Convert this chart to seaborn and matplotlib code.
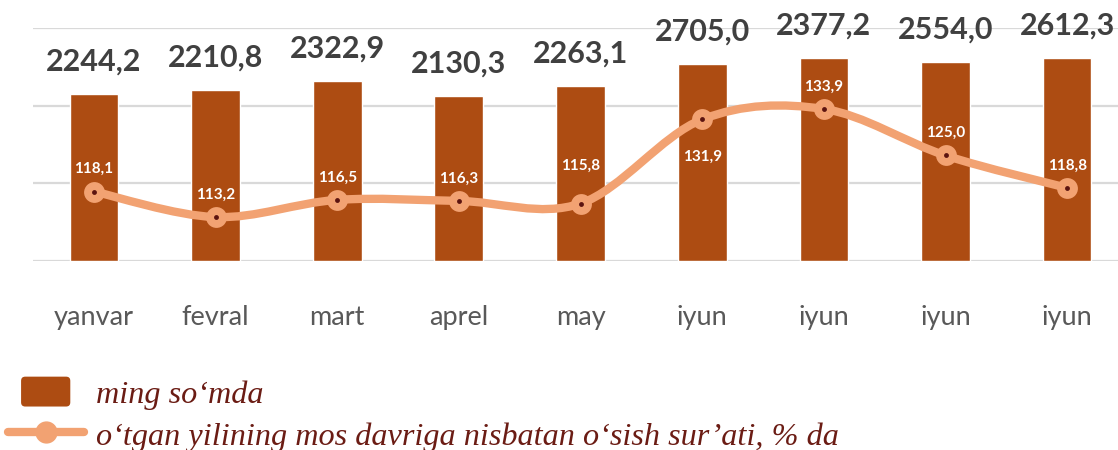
import numpy as np
import matplotlib.pyplot as plt
import seaborn as sns
from matplotlib.path import Path
from matplotlib.patches import PathPatch, Patch, FancyBboxPatch
from matplotlib.lines import Line2D
from matplotlib.legend_handler import HandlerPatch

sns.set_theme(style='white')
plt.rcParams['font.family'] = ['Lato', 'DejaVu Sans']

months = ['yanvar', 'fevral', 'mart', 'aprel', 'may', 'iyun', 'iyun', 'iyun', 'iyun']
# bar heights as drawn in the source picture (they do not follow the printed labels exactly)
bar_heights = [2222, 2275, 2395, 2195, 2328, 2621, 2701, 2648, 2701]
bar_labels = ['2244,2', '2210,8', '2322,9', '2130,3', '2263,1', '2705,0', '2377,2', '2554,0', '2612,3']
growth = [118.1, 113.2, 116.5, 116.3, 115.8, 131.9, 133.9, 125.0, 118.8]

BAR = '#AD4C12'
LINE = '#F2A272'
DOT = '#5C1410'
GRID = '#D9D9D9'
LABEL = '#404040'
TICK = '#595959'
LEGEND_TXT = '#6B1C14'

fig = plt.figure(figsize=(11.18, 4.5), dpi=100, facecolor='white')
ax = fig.add_axes([33 / 1118, 189 / 450, 1095 / 1118, 233 / 450])

# ── bars ──────────────────────────────────────────────
x = np.arange(len(months))
sns.barplot(x=x, y=bar_heights, color=BAR, width=0.4, saturation=1, ax=ax, zorder=2)
ax.set_xlim(-0.5, 8.5)
ax.set_ylim(0, 3100)
ax.set_yticks(np.linspace(0, 3100, 4))
ax.set_yticklabels([])
ax.grid(axis='y', color=GRID, linewidth=1.6)
ax.set_axisbelow(True)
for s in ax.spines.values():
    s.set_visible(False)
ax.set_xticks(x)
ax.set_xticklabels(months, fontsize=19.5, color=TICK)
ax.tick_params(axis='both', length=0)
ax.tick_params(axis='x', pad=32)

for xi, h, lab in zip(x, bar_heights, bar_labels):
    ax.annotate(lab, (xi, h), xytext=(0, 23),
                textcoords='offset points', ha='center', va='center',
                fontsize=22, fontweight='bold', color=LABEL)

# ── smoothed growth line on secondary axis ────────────
ax2 = ax.twinx()
ax2.set_ylim(104.8, 149.4)
ax2.set_yticks([])
for s in ax2.spines.values():
    s.set_visible(False)

pts = np.column_stack([x, growth]).astype(float)
padded = np.vstack([pts[0], pts, pts[-1]])
verts = [tuple(pts[0])]
codes = [Path.MOVETO]
for i in range(1, len(padded) - 2):
    p0, p1, p2, p3 = padded[i - 1], padded[i], padded[i + 1], padded[i + 2]
    c1 = p1 + (p2 - p0) / 6
    c2 = p2 - (p3 - p1) / 6
    verts += [tuple(c1), tuple(c2), tuple(p2)]
    codes += [Path.CURVE4] * 3
ax2.add_patch(PathPatch(Path(verts, codes), facecolor='none', edgecolor=LINE,
                        lw=6, capstyle='round', joinstyle='round', zorder=3))
ax2.plot(x, growth, 'o', ms=15, color=LINE, mec='none', zorder=4)
ax2.plot(x, growth, 'o', ms=3.5, color=DOT, mec='none', zorder=5)

label_offset = [16, 16, 16, 16, 27, -27, 16, 16, 16]
for xi, v, off in zip(x, growth, label_offset):
    ax2.annotate(f'{v:.1f}'.replace('.', ','), (xi, v), xytext=(0, off),
                 textcoords='offset points', ha='center', va='center',
                 fontsize=11, fontweight='bold', color='white', zorder=6)

# ── legend ────────────────────────────────────────────
def rounded_box(legend, orig_handle, xdescent, ydescent, width, height, fontsize):
    w = width * 0.65
    return FancyBboxPatch((-xdescent + (width - w) / 2, -ydescent), w, height,
                          boxstyle='round,pad=0,rounding_size=3')

handles = [Patch(facecolor=BAR, edgecolor='none'),
           Line2D([], [], color=LINE, lw=6, marker='o', ms=15,
                  solid_capstyle='round')]
labels = ['ming so‘mda', 'o‘tgan yilining mos davriga nisbatan o‘sish sur’ati, % da']
fig.legend(handles, labels, loc='upper left', bbox_to_anchor=(0.007, 0.163),
           frameon=False, borderpad=0, borderaxespad=0, handlelength=2.35,
           handleheight=1.05, handletextpad=0.4, labelspacing=0.3, numpoints=1,
           handler_map={Patch: HandlerPatch(patch_func=rounded_box)},
           prop={'family': 'Liberation Serif', 'style': 'italic', 'size': 23.2},
           labelcolor=LEGEND_TXT)

fig.savefig('out.png', dpi=100, facecolor='white')
